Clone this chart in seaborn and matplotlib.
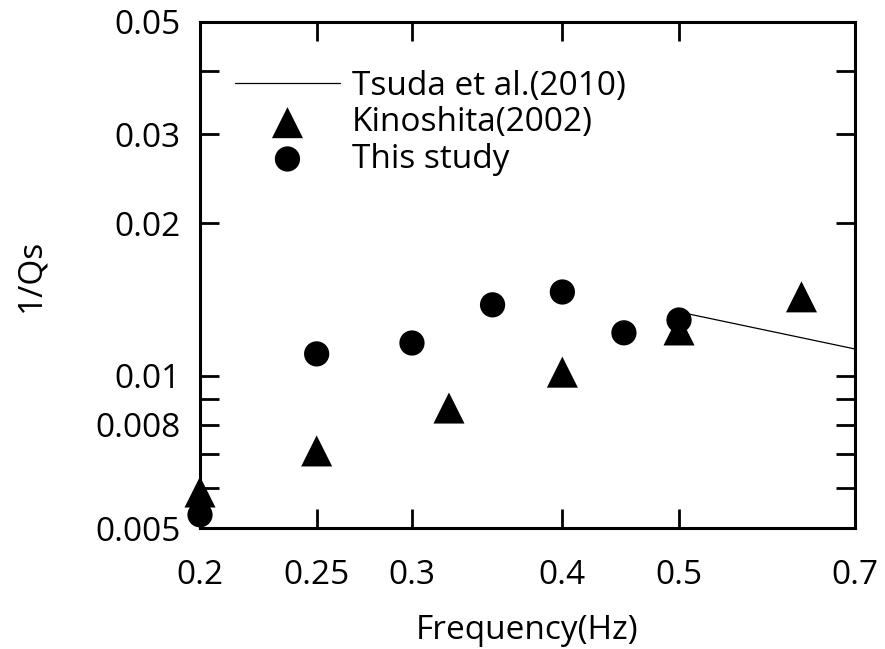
import numpy as np
import pandas as pd
import seaborn as sns
import matplotlib.pyplot as plt
from matplotlib.ticker import FixedLocator, NullLocator, NullFormatter

# Values
study_freq = [0.2, 0.25, 0.3, 0.35, 0.4, 0.45, 0.5]
study_q = [0.00531, 0.01104, 0.01160, 0.0138, 0.01463, 0.01215, 0.01288]

kino_freq = [0.2, 0.25, 0.322, 0.4, 0.5, 0.632]
kino_q = [0.00589, 0.00710, 0.00863, 0.01016, 0.01231, 0.01431]

tsuda_freq = [0.5, 0.7]
tsuda_q = [0.01336, 0.01129]

x_ticks = [0.2, 0.25, 0.3, 0.4, 0.5, 0.7]
x_labels = ["0.2", "0.25", "0.3", "0.4", "0.5", "0.7"]
y_ticks = [0.005, 0.006, 0.007, 0.008, 0.009, 0.01, 0.02, 0.03, 0.04, 0.05]
y_labels = ["0.005", "", "", "0.008", "", "0.01", "0.02", "0.03", "", "0.05"]

sns.set_theme(style="ticks")
plt.rcParams['font.family'] = ['Open Sans', 'DejaVu Sans']
plt.rcParams['text.color'] = 'black'
plt.rcParams['axes.labelcolor'] = 'black'

fig = plt.figure(figsize=(8.85, 6.49), dpi=100)
ax = fig.add_axes([0.226, 0.1864, 0.740, 0.780])

sns.lineplot(x=tsuda_freq, y=tsuda_q, ax=ax, color="black", linewidth=0.9,
             label="Tsuda et al.(2010)")
sns.scatterplot(x=kino_freq, y=kino_q, ax=ax, marker="^", s=500, color="black",
                edgecolor="none", label="Kinoshita(2002)", clip_on=False, zorder=3)
sns.scatterplot(x=study_freq, y=study_q, ax=ax, marker="o", s=330, color="black",
                edgecolor="none", label="This study", clip_on=False, zorder=4)

ax.set_xscale("log")
ax.set_yscale("log")
ax.set_xlim(0.2, 0.7)
ax.set_ylim(0.005, 0.05)

ax.xaxis.set_major_locator(FixedLocator(x_ticks))
ax.xaxis.set_minor_locator(NullLocator())
ax.set_xticklabels(x_labels)
ax.yaxis.set_major_locator(FixedLocator(y_ticks))
ax.yaxis.set_minor_locator(NullLocator())
ax.set_yticklabels(y_labels)
ax.xaxis.set_minor_formatter(NullFormatter())
ax.yaxis.set_minor_formatter(NullFormatter())

ax.tick_params(which="both", direction="in", length=14, width=2, top=True, right=True,
               labelsize=24, colors="black")
ax.tick_params(axis="x", pad=22)
ax.tick_params(axis="y", pad=14)
for sp in ax.spines.values():
    sp.set_linewidth(2.2)
    sp.set_color("black")

ax.set_xlabel("Frequency(Hz)", fontsize=24, labelpad=16)
ax.set_ylabel("1/Qs", fontsize=24, labelpad=34)

leg = ax.legend(loc="upper left", bbox_to_anchor=(0.033, 0.931), frameon=False,
                fontsize=24, handlelength=3.15, handletextpad=0.36, labelspacing=0.1,
                borderaxespad=0.0)

fig.savefig("out.png", dpi=100)
